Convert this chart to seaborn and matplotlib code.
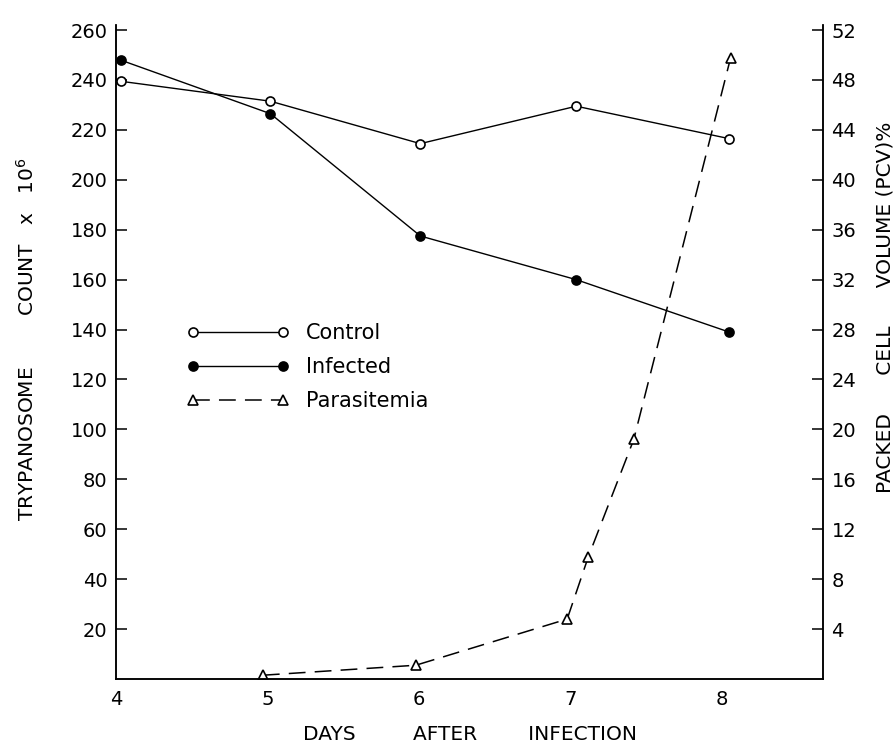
import matplotlib
matplotlib.use("Agg")
import matplotlib.pyplot as plt
import pandas as pd
import seaborn as sns

# Packed cell volume (%), right axis
days = [4.03, 5.02, 6.01, 7.04, 8.05]
control_pcv = [47.9, 46.3, 42.9, 45.9, 43.3]
infected_pcv = [49.6, 45.3, 35.5, 32.0, 27.8]

# Trypanosome count x 10^6, left axis
parasite_days = [4.97, 5.98, 6.98, 7.12, 7.42, 8.06]
parasite_count = [1.5, 5.5, 24, 49, 96, 249]

left_ticks = list(range(20, 261, 20))
right_ticks = list(range(4, 53, 4))
day_ticks = [4, 5, 6, 7, 8]

sns.set_theme(style="white")
plt.rcParams["font.family"] = ["DejaVu Sans"]
plt.rcParams["axes.linewidth"] = 1.1

fig = plt.figure(figsize=(8.95, 7.49), dpi=100)
ax = fig.add_axes([0.1296, 0.0935, 0.79, 0.873])
ax2 = ax.twinx()

par = pd.DataFrame({"day": parasite_days, "count": parasite_count})
pcv = pd.DataFrame({"day": days, "control": control_pcv, "infected": infected_pcv})

sns.lineplot(data=par, x="day", y="count", ax=ax, color="black", lw=1.1,
             ls=(0, (11, 6)), marker="^", ms=7, mfc="white", mec="black",
             mew=1.2, label="Parasitemia", legend=False)
sns.lineplot(data=pcv, x="day", y="control", ax=ax2, color="black", lw=1.0,
             marker="o", ms=6.5, mfc="white", mec="black", mew=1.2,
             label="Control", legend=False)
sns.lineplot(data=pcv, x="day", y="infected", ax=ax2, color="black", lw=1.0,
             marker="o", ms=6.5, mfc="black", mec="black", mew=1.2,
             label="Infected", legend=False)

ax.set_xlim(4, 8.67)
ax.set_ylim(0, 262)
ax2.set_ylim(0, 52.4)
ax.set_xticks(day_ticks)
ax.set_yticks(left_ticks)
ax2.set_yticks(right_ticks)

for a in (ax, ax2):
    a.spines["top"].set_visible(False)
    for s in a.spines.values():
        s.set_color("black")
ax.tick_params(axis="both", direction="in", length=8, width=1.1,
               labelsize=14, colors="black", pad=6)
ax2.tick_params(axis="y", direction="in", length=8, width=1.1,
                labelsize=14, colors="black", pad=6)
ax.tick_params(axis="x", pad=8)

ax.set_xlabel("DAYS         AFTER        INFECTION", fontsize=14.5,
              color="black", ha="center", va="center")
ax.xaxis.set_label_coords(0.5, -0.085)
ax.set_ylabel("TRYPANOSOME        COUNT   x   10$^6$", fontsize=14.5,
              color="black", ha="center", va="center")
ax.yaxis.set_label_coords(-0.126, 0.519)
ax2.set_ylabel("PACKED      CELL      VOLUME (PCV)%", fontsize=14.5,
               color="black", ha="center", va="center")
ax2.yaxis.set_label_coords(1.088, 0.568)

handles = ax2.get_lines()[:2] + ax.get_lines()[:1]
labels = ["Control", "Infected", "Parasitemia"]
leg = ax2.legend(handles, labels, loc="upper left", bbox_to_anchor=(0.074, 0.573),
                 frameon=False, numpoints=2, handlelength=4.9, fontsize=15,
                 labelspacing=0.68, handletextpad=0.8)
for t in leg.get_texts():
    t.set_color("black")

fig.savefig("out.png", dpi=100)
